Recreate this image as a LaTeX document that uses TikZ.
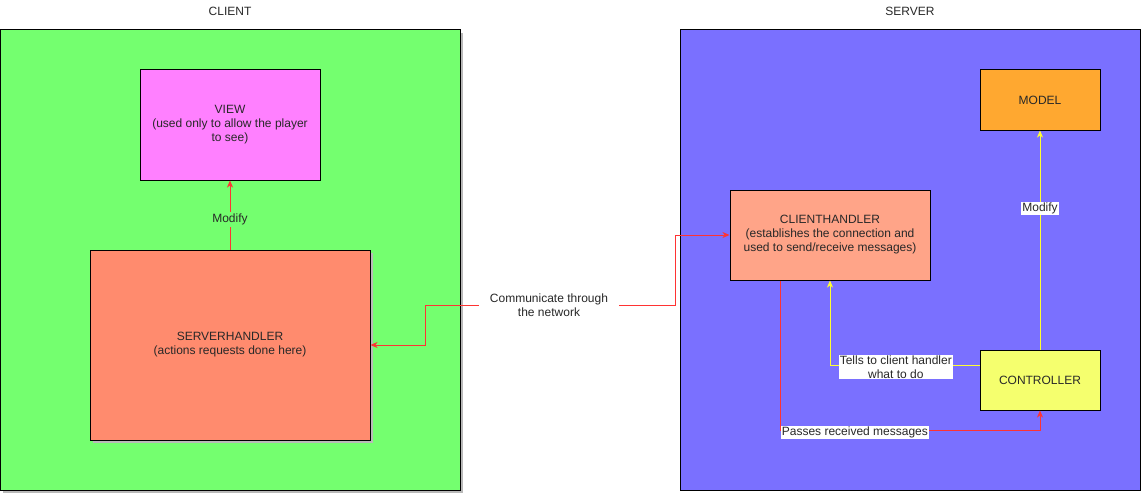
\documentclass[tikz,border=0pt]{standalone}
\usepackage{fontspec}
\setmainfont{Liberation Sans}
\usetikzlibrary{arrows.meta}
\definecolor{cgreen}{RGB}{116,255,111}
\definecolor{cview}{RGB}{255,128,255}
\definecolor{csh}{RGB}{255,139,110}
\definecolor{cch}{RGB}{255,164,136}
\definecolor{cserver}{RGB}{122,112,255}
\definecolor{cmodel}{RGB}{255,168,48}
\definecolor{cctrl}{RGB}{245,255,110}
\definecolor{cred}{RGB}{255,51,51}
\definecolor{cyel}{RGB}{255,255,51}
\definecolor{ctext}{RGB}{40,40,40}
\definecolor{cshadow}{RGB}{185,185,185}
\begin{document}
\begin{tikzpicture}[x=1pt,y=-1pt,
  box/.style={draw=black,line width=1pt,rectangle,inner sep=0pt,align=center,
    text=ctext,font=\fontsize{12}{14}\selectfont},
  title/.style={text=ctext,font=\fontsize{12}{14}\selectfont},
  redlink/.style={draw=cred,line width=1pt,-{Stealth[length=7pt,width=6pt,inset=2pt]}},
  yellink/.style={draw=cyel,line width=1pt,-{Stealth[length=7pt,width=6pt,inset=2pt]}},
  lbl/.style={fill=white,inner sep=1pt,text=ctext,align=center,font=\fontsize{12}{14}\selectfont}
]
\useasboundingbox (0,0) rectangle (1141,495);
\fill[white] (0,0) rectangle (1141,495);
% client container
\fill[cshadow] (3,33) rectangle (463,493);
\node[box,fill=cgreen,minimum width=460pt,minimum height=460pt] (client) at (230.5,260) {};
\node[title] (clientt) at (230,11) {CLIENT};
% server container
\node[box,fill=cserver,minimum width=460pt,minimum height=460pt] (server) at (910,260) {};
\node[title] (servert) at (910,11) {SERVER};
% nodes
\node[box,fill=cview,minimum width=180pt,minimum height=110pt] (view) at (230,125)
  {VIEW\\(used only to allow the player\\to see)};
\fill[cshadow] (93,253) rectangle (373,443);
\node[box,fill=csh,minimum width=280pt,minimum height=190pt] (sh) at (230,345)
  {SERVERHANDLER\\(actions requests done here)};
\node[box,fill=cmodel,minimum width=120pt,minimum height=60pt] (model) at (1040,100) {MODEL};
\node[box,fill=cch,minimum width=200pt,minimum height=90pt] (ch) at (830,235)
  {CLIENTHANDLER\\(establishes the connection and\\used to send/receive messages)};
\node[box,fill=cctrl,minimum width=120pt,minimum height=60pt] (ctrl) at (1040,380) {CONTROLLER};
% client modify
\draw[redlink] (sh.north) -- (view.south)
  node[pos=0.43,fill=cgreen,inner sep=2pt,text=ctext,font=\fontsize{12}{14}\selectfont] (modc) {Modify};
% network
\node[inner xsep=11pt,inner ysep=2pt,align=center,text=ctext,font=\fontsize{12}{14}\selectfont] (net) at (549,305)
  {Communicate through\\the network};
\coordinate (nl) at (425,305);
\coordinate (nr) at (675,305);
\draw[redlink] (net.west) -- (nl) |- (sh.east);
\draw[redlink] (net.east) -- (nr) |- (ch.west);
% server links
\draw[yellink] (ctrl.north) -- (model.south) node[lbl,pos=0.645] (mods) {Modify};
\draw[yellink] ([yshift=15pt]ctrl.west) -| node[lbl,pos=0.28,yshift=-2pt] (tells) {Tells to client handler\\what to do} (ch.south);
\draw[redlink] ([xshift=-50pt]ch.south) |- node[lbl,pos=0.644,yshift=-2pt] (passes) {Passes received messages}
  ([yshift=-20pt]ctrl.south) -- (ctrl.south);
\end{tikzpicture}
\end{document}
